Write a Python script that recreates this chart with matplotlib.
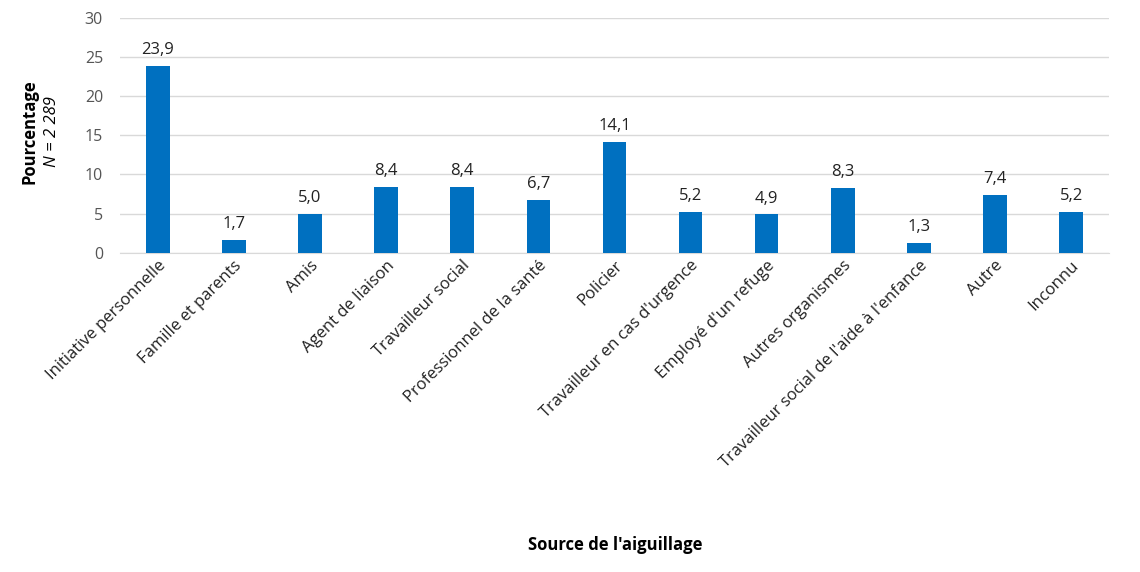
import matplotlib

matplotlib.use("Agg")
import matplotlib.pyplot as plt  # noqa: E402

plt.rcParams["font.family"] = ["Open Sans", "DejaVu Sans"]

categories = [
    "Initiative personnelle",
    "Famille et parents",
    "Amis",
    "Agent de liaison",
    "Travailleur social",
    "Professionnel de la santé",
    "Policier",
    "Travailleur en cas d'urgence",
    "Employé d'un refuge",
    "Autres organismes",
    "Travailleur social de l'aide à l'enfance",
    "Autre",
    "Inconnu",
]
values = [23.9, 1.7, 5.0, 8.4, 8.4, 6.7, 14.1, 5.2, 4.9, 8.3, 1.3, 7.4, 5.2]
y_ticks = [0, 5, 10, 15, 20, 25, 30]

fig = plt.figure(figsize=(11.4, 5.72), dpi=100)
ax = fig.add_axes([0.105, 0.558, 0.868, 0.411])

x = range(len(categories))
ax.bar(x, values, width=0.31, color="#0070C0", zorder=3)
for xi, v in zip(x, values):
    ax.text(xi, v + 1.0, f"{v:.1f}".replace(".", ","), ha="center", va="bottom",
            fontsize=12, color="#222222")

ax.set_xlim(-0.5, len(categories) - 0.5)
ax.set_ylim(0, 30)
ax.set_yticks(y_ticks)
ax.tick_params(axis="y", length=0, labelsize=11.5, labelcolor="#555555", pad=12)
ax.tick_params(axis="x", length=0, labelsize=12, labelcolor="#222222")
ax.set_xticks(list(x))
ax.set_xticklabels(categories, rotation=45, ha="right", rotation_mode="anchor")
ax.grid(axis="y", color="#D9D9D9", linewidth=1, zorder=0)
for side in ["top", "right", "left"]:
    ax.spines[side].set_visible(False)
ax.spines["bottom"].set_color("#D9D9D9")

fig.text(0.026, 0.77, "Pourcentage", rotation=90, fontsize=12, fontweight="bold",
         ha="center", va="center")
fig.text(0.046, 0.77, "N = 2 289", rotation=90, fontsize=12, style="italic",
         ha="center", va="center")
fig.text(0.54, 0.048, "Source de l'aiguillage", fontsize=12, fontweight="bold",
         ha="center", va="center")

fig.savefig("out.png", dpi=100)
